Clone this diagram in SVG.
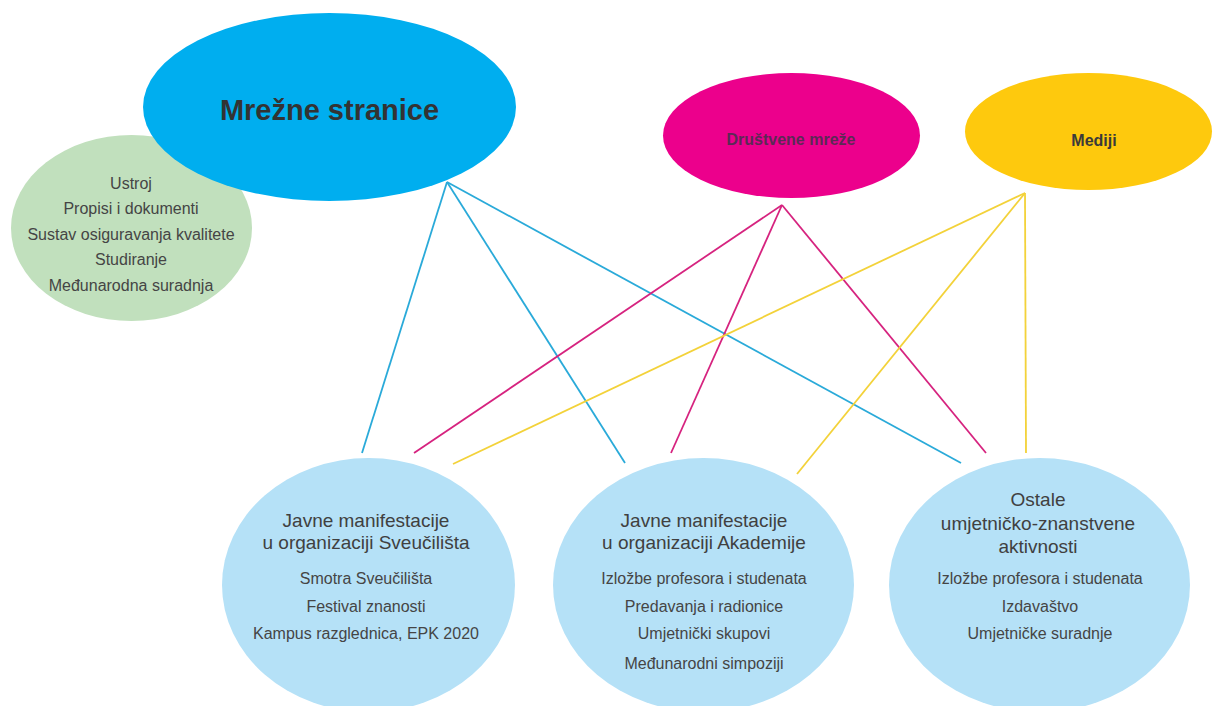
<svg xmlns="http://www.w3.org/2000/svg" width="1213" height="706" viewBox="0 0 1213 706">
<style>
text{font-family:"Liberation Sans",Arial,sans-serif;text-anchor:middle}
.sm{font-size:16px;fill:#454545}
.hd{font-size:19px;fill:#404040}
.lb{fill:#b5e1f7}
.cb{stroke:#2aaad9}
.cm{stroke:#d6237f}
.cy{stroke:#f3d23a}
#connectors line{stroke-width:1.8;fill:none}
</style>
<rect width="1213" height="706" fill="#ffffff"/>
<g id="green">
<ellipse cx="131.5" cy="228" rx="120.5" ry="93" fill="#c1e0bd"/>
<text class="sm" x="131" y="189">Ustroj</text>
<text class="sm" x="131" y="214">Propisi i dokumenti</text>
<text class="sm" x="131" y="240">Sustav osiguravanja kvalitete</text>
<text class="sm" x="131" y="265">Studiranje</text>
<text class="sm" x="131" y="291">Međunarodna suradnja</text>
</g>
<g id="web">
<ellipse cx="329.5" cy="107" rx="186.5" ry="94" fill="#00aeef"/>
<text x="329.5" y="120" style="font-size:29px;font-weight:bold;fill:#333333">Mrežne stranice</text>
</g>
<g id="social">
<ellipse cx="791.5" cy="135.5" rx="128.5" ry="62.5" fill="#ec008c"/>
<text x="791" y="145" style="font-size:16px;font-weight:bold;fill:#5b2a55">Društvene mreže</text>
</g>
<g id="media">
<ellipse cx="1088.5" cy="131.5" rx="123.5" ry="58.5" fill="#fec90d"/>
<text x="1094" y="146" style="font-size:16px;font-weight:bold;fill:#3a3a3a">Mediji</text>
</g>
<g id="uni">
<ellipse class="lb" cx="368.5" cy="585" rx="146.5" ry="127"/>
<text class="hd" x="366" y="527">Javne manifestacije</text>
<text class="hd" x="366" y="549">u organizaciji Sveučilišta</text>
<text class="sm" x="366" y="584">Smotra Sveučilišta</text>
<text class="sm" x="366" y="612">Festival znanosti</text>
<text class="sm" x="366" y="639">Kampus razglednica, EPK 2020</text>
</g>
<g id="academy">
<ellipse class="lb" cx="703.5" cy="585" rx="150.5" ry="127"/>
<text class="hd" x="704" y="527">Javne manifestacije</text>
<text class="hd" x="704" y="549">u organizaciji Akademije</text>
<text class="sm" x="704" y="584">Izložbe profesora i studenata</text>
<text class="sm" x="704" y="612">Predavanja i radionice</text>
<text class="sm" x="704" y="639">Umjetnički skupovi</text>
<text class="sm" x="704" y="669">Međunarodni simpoziji</text>
</g>
<g id="other">
<ellipse class="lb" cx="1039.5" cy="585" rx="150.5" ry="127"/>
<text class="hd" x="1038" y="506">Ostale</text>
<text class="hd" x="1038" y="530">umjetničko-znanstvene</text>
<text class="hd" x="1038" y="553">aktivnosti</text>
<text class="sm" x="1040" y="584">Izložbe profesora i studenata</text>
<text class="sm" x="1040" y="612">Izdavaštvo</text>
<text class="sm" x="1040" y="639">Umjetničke suradnje</text>
</g>
<g id="connectors">
<line class="cb" x1="447" y1="182" x2="362" y2="453"/>
<line class="cb" x1="447" y1="182" x2="625" y2="463"/>
<line class="cb" x1="447" y1="182" x2="961" y2="463"/>
<line class="cm" x1="782" y1="205" x2="414" y2="453"/>
<line class="cm" x1="782" y1="205" x2="671" y2="453"/>
<line class="cm" x1="782" y1="205" x2="986" y2="453"/>
<line class="cy" x1="1025" y1="193" x2="453" y2="464"/>
<line class="cy" x1="1025" y1="193" x2="797" y2="474"/>
<line class="cy" x1="1025" y1="193" x2="1026" y2="453"/>
</g>
</svg>
